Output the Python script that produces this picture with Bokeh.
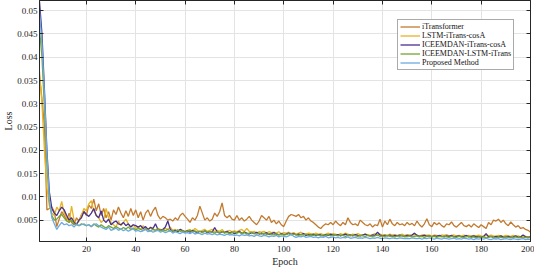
from bokeh.plotting import figure
from bokeh.models import (Range1d, FixedTicker, CustomJSTickFormatter, LinearAxis,
                          Legend, LegendItem)
from bokeh.embed import file_html
from bokeh.resources import INLINE

epochs = list(range(1, 201))

itransformer = [
    0.0360, 0.0310, 0.0250, 0.0072, 0.0075, 0.0078, 0.0068, 0.0036, 0.0052, 0.0068,
    0.0060, 0.0050, 0.0065, 0.0045, 0.0040, 0.0055, 0.0048, 0.0062, 0.0070, 0.0060,
    0.0082, 0.0075, 0.0095, 0.0070, 0.0085, 0.0060, 0.0075, 0.0055, 0.0068, 0.0050,
    0.0072, 0.0062, 0.0078, 0.0065, 0.0055, 0.0070, 0.0058, 0.0075, 0.0060, 0.0072,
    0.0055, 0.0068, 0.0050, 0.0065, 0.0072, 0.0058, 0.0070, 0.0078, 0.0060, 0.0052,
    0.0058, 0.0055, 0.0050, 0.0052, 0.0048, 0.0055, 0.0050, 0.0060, 0.0065, 0.0058,
    0.0052, 0.0045, 0.0055, 0.0050, 0.0060, 0.0080, 0.0065, 0.0050, 0.0055, 0.0048,
    0.0052, 0.0065, 0.0058, 0.0068, 0.0087, 0.0060, 0.0055, 0.0060, 0.0052, 0.0050,
    0.0060, 0.0050, 0.0055, 0.0048, 0.0052, 0.0058, 0.0050, 0.0045, 0.0040, 0.0048,
    0.0060, 0.0055, 0.0050, 0.0058, 0.0045, 0.0050, 0.0042, 0.0048, 0.0040, 0.0036,
    0.0048, 0.0058, 0.0062, 0.0060, 0.0058, 0.0062, 0.0055, 0.0058, 0.0050, 0.0055,
    0.0048, 0.0045, 0.0040, 0.0035, 0.0032, 0.0038, 0.0042, 0.0040, 0.0045, 0.0040,
    0.0048, 0.0042, 0.0038, 0.0045, 0.0040, 0.0055, 0.0045, 0.0040, 0.0042, 0.0038,
    0.0050, 0.0045, 0.0040, 0.0038, 0.0042, 0.0035, 0.0040, 0.0038, 0.0052, 0.0035,
    0.0048, 0.0040, 0.0052, 0.0042, 0.0038, 0.0045, 0.0040, 0.0042, 0.0038, 0.0045,
    0.0040, 0.0043, 0.0038, 0.0048, 0.0040, 0.0035, 0.0042, 0.0053, 0.0040, 0.0036,
    0.0045, 0.0040, 0.0044, 0.0038, 0.0035, 0.0042, 0.0040, 0.0046, 0.0038, 0.0035,
    0.0040, 0.0045, 0.0038, 0.0036, 0.0040, 0.0035, 0.0042, 0.0038, 0.0034, 0.0040,
    0.0036, 0.0032, 0.0045, 0.0040, 0.0050, 0.0048, 0.0052, 0.0045, 0.0050, 0.0042,
    0.0038, 0.0046, 0.0040, 0.0035, 0.0038, 0.0032, 0.0034, 0.0030, 0.0028, 0.0024,
]

lstm_itrans_cosa = [
    0.0370, 0.0300, 0.0200, 0.0120, 0.0080, 0.0065, 0.0060, 0.0078, 0.0070, 0.0090,
    0.0065, 0.0055, 0.0045, 0.0080, 0.0050, 0.0042, 0.0048, 0.0060, 0.0075, 0.0070,
    0.0085, 0.0092, 0.0070, 0.0060, 0.0055, 0.0045, 0.0050, 0.0075, 0.0055, 0.0045,
    0.0040, 0.0035, 0.0048, 0.0038, 0.0045, 0.0052, 0.0042, 0.0035, 0.0040, 0.0032,
    0.0035, 0.0030, 0.0038, 0.0032, 0.0030, 0.0035, 0.0030, 0.0028, 0.0032, 0.0030,
    0.0028, 0.0032, 0.0030, 0.0035, 0.0028, 0.0030, 0.0026, 0.0030, 0.0028, 0.0025,
    0.0028, 0.0030, 0.0026, 0.0032, 0.0028, 0.0025, 0.0028, 0.0030, 0.0026, 0.0028,
    0.0030, 0.0025, 0.0028, 0.0026, 0.0030, 0.0024, 0.0026, 0.0028, 0.0025, 0.0027,
    0.0025, 0.0028, 0.0030, 0.0025, 0.0032, 0.0026, 0.0024, 0.0026, 0.0022, 0.0025,
    0.0024, 0.0026, 0.0022, 0.0025, 0.0023, 0.0024, 0.0022, 0.0025, 0.0021, 0.0023,
    0.0022, 0.0024, 0.0021, 0.0023, 0.0020, 0.0022, 0.0024, 0.0021, 0.0020, 0.0022,
    0.0021, 0.0019, 0.0022, 0.0020, 0.0021, 0.0019, 0.0020, 0.0022, 0.0019, 0.0021,
    0.0020, 0.0018, 0.0021, 0.0019, 0.0022, 0.0020, 0.0018, 0.0020, 0.0019, 0.0021,
    0.0019, 0.0018, 0.0020, 0.0019, 0.0017, 0.0019, 0.0021, 0.0018, 0.0020, 0.0018,
    0.0019, 0.0017, 0.0020, 0.0018, 0.0019, 0.0017, 0.0018, 0.0020, 0.0017, 0.0019,
    0.0018, 0.0017, 0.0019, 0.0018, 0.0016, 0.0018, 0.0019, 0.0017, 0.0018, 0.0016,
    0.0018, 0.0017, 0.0016, 0.0018, 0.0017, 0.0019, 0.0016, 0.0017, 0.0018, 0.0016,
    0.0017, 0.0016, 0.0018, 0.0016, 0.0017, 0.0015, 0.0017, 0.0016, 0.0018, 0.0016,
    0.0015, 0.0017, 0.0016, 0.0018, 0.0016, 0.0015, 0.0017, 0.0016, 0.0015, 0.0017,
    0.0016, 0.0015, 0.0017, 0.0015, 0.0016, 0.0014, 0.0016, 0.0015, 0.0014, 0.0015,
]

iceemdan_itrans_cosa = [
    0.0520, 0.0450, 0.0330, 0.0200, 0.0110, 0.0075, 0.0065, 0.0060, 0.0070, 0.0078,
    0.0072, 0.0060, 0.0050, 0.0055, 0.0045, 0.0040, 0.0050, 0.0055, 0.0068, 0.0062,
    0.0058, 0.0065, 0.0075, 0.0060, 0.0055, 0.0070, 0.0050, 0.0045, 0.0052, 0.0040,
    0.0045, 0.0048, 0.0042, 0.0040, 0.0045, 0.0038, 0.0042, 0.0035, 0.0040, 0.0038,
    0.0035, 0.0038, 0.0032, 0.0036, 0.0030, 0.0034, 0.0032, 0.0042, 0.0030, 0.0028,
    0.0030, 0.0035, 0.0048, 0.0030, 0.0026, 0.0028, 0.0025, 0.0030, 0.0027, 0.0025,
    0.0027, 0.0024, 0.0028, 0.0025, 0.0023, 0.0026, 0.0024, 0.0027, 0.0023, 0.0025,
    0.0024, 0.0034, 0.0025, 0.0022, 0.0025, 0.0023, 0.0026, 0.0022, 0.0024, 0.0021,
    0.0023, 0.0026, 0.0021, 0.0024, 0.0022, 0.0020, 0.0023, 0.0021, 0.0024, 0.0020,
    0.0022, 0.0020, 0.0023, 0.0019, 0.0021, 0.0023, 0.0020, 0.0018, 0.0021, 0.0019,
    0.0020, 0.0022, 0.0019, 0.0021, 0.0018, 0.0020, 0.0019, 0.0021, 0.0017, 0.0019,
    0.0018, 0.0020, 0.0017, 0.0019, 0.0018, 0.0016, 0.0019, 0.0017, 0.0020, 0.0018,
    0.0017, 0.0019, 0.0016, 0.0018, 0.0020, 0.0017, 0.0018, 0.0016, 0.0019, 0.0017,
    0.0016, 0.0018, 0.0020, 0.0017, 0.0016, 0.0018, 0.0017, 0.0024, 0.0018, 0.0016,
    0.0017, 0.0016, 0.0018, 0.0015, 0.0017, 0.0016, 0.0018, 0.0016, 0.0015, 0.0017,
    0.0016, 0.0018, 0.0022, 0.0017, 0.0015, 0.0016, 0.0017, 0.0015, 0.0016, 0.0014,
    0.0016, 0.0015, 0.0017, 0.0015, 0.0014, 0.0016, 0.0015, 0.0017, 0.0014, 0.0015,
    0.0016, 0.0014, 0.0015, 0.0017, 0.0014, 0.0015, 0.0016, 0.0014, 0.0015, 0.0013,
    0.0015, 0.0021, 0.0014, 0.0015, 0.0013, 0.0015, 0.0014, 0.0016, 0.0013, 0.0014,
    0.0015, 0.0013, 0.0014, 0.0016, 0.0013, 0.0014, 0.0018, 0.0014, 0.0013, 0.0014,
]

iceemdan_lstm_itrans = [
    0.0460, 0.0400, 0.0290, 0.0170, 0.0090, 0.0060, 0.0050, 0.0052, 0.0058, 0.0062,
    0.0055, 0.0048, 0.0045, 0.0050, 0.0042, 0.0040, 0.0038, 0.0042, 0.0040, 0.0038,
    0.0040, 0.0036, 0.0042, 0.0038, 0.0035, 0.0040, 0.0036, 0.0033, 0.0038, 0.0035,
    0.0032, 0.0036, 0.0033, 0.0030, 0.0034, 0.0031, 0.0035, 0.0030, 0.0033, 0.0029,
    0.0032, 0.0030, 0.0028, 0.0031, 0.0029, 0.0027, 0.0030, 0.0028, 0.0031, 0.0027,
    0.0029, 0.0027, 0.0030, 0.0026, 0.0028, 0.0025, 0.0029, 0.0026, 0.0027, 0.0024,
    0.0026, 0.0028, 0.0025, 0.0027, 0.0024, 0.0026, 0.0023, 0.0027, 0.0024, 0.0026,
    0.0024, 0.0022, 0.0025, 0.0023, 0.0026, 0.0022, 0.0024, 0.0021, 0.0023, 0.0025,
    0.0022, 0.0024, 0.0021, 0.0023, 0.0020, 0.0022, 0.0024, 0.0021, 0.0020, 0.0022,
    0.0020, 0.0022, 0.0019, 0.0021, 0.0020, 0.0018, 0.0021, 0.0019, 0.0020, 0.0018,
    0.0019, 0.0021, 0.0018, 0.0020, 0.0019, 0.0017, 0.0019, 0.0018, 0.0020, 0.0017,
    0.0018, 0.0017, 0.0019, 0.0018, 0.0016, 0.0018, 0.0017, 0.0019, 0.0016, 0.0018,
    0.0017, 0.0016, 0.0018, 0.0017, 0.0015, 0.0017, 0.0016, 0.0018, 0.0016, 0.0015,
    0.0017, 0.0016, 0.0015, 0.0017, 0.0016, 0.0015, 0.0016, 0.0018, 0.0015, 0.0016,
    0.0015, 0.0017, 0.0015, 0.0016, 0.0014, 0.0016, 0.0015, 0.0017, 0.0014, 0.0015,
    0.0016, 0.0014, 0.0015, 0.0016, 0.0014, 0.0015, 0.0013, 0.0015, 0.0016, 0.0014,
    0.0015, 0.0013, 0.0015, 0.0014, 0.0016, 0.0014, 0.0013, 0.0015, 0.0014, 0.0013,
    0.0015, 0.0014, 0.0013, 0.0014, 0.0015, 0.0013, 0.0014, 0.0012, 0.0014, 0.0013,
    0.0014, 0.0012, 0.0013, 0.0015, 0.0013, 0.0012, 0.0014, 0.0013, 0.0012, 0.0014,
    0.0013, 0.0012, 0.0013, 0.0014, 0.0012, 0.0013, 0.0012, 0.0013, 0.0012, 0.0013,
]

proposed = [
    0.0500, 0.0430, 0.0320, 0.0190, 0.0095, 0.0055, 0.0042, 0.0030, 0.0038, 0.0045,
    0.0040, 0.0042, 0.0038, 0.0040, 0.0035, 0.0042, 0.0038, 0.0040, 0.0042, 0.0038,
    0.0040, 0.0036, 0.0040, 0.0042, 0.0038, 0.0035, 0.0032, 0.0030, 0.0035, 0.0028,
    0.0030, 0.0033, 0.0028, 0.0031, 0.0027, 0.0030, 0.0026, 0.0029, 0.0031, 0.0026,
    0.0028, 0.0025, 0.0027, 0.0030, 0.0025, 0.0027, 0.0024, 0.0026, 0.0028, 0.0024,
    0.0026, 0.0023, 0.0025, 0.0027, 0.0022, 0.0025, 0.0023, 0.0021, 0.0024, 0.0022,
    0.0023, 0.0021, 0.0024, 0.0020, 0.0022, 0.0021, 0.0019, 0.0022, 0.0020, 0.0021,
    0.0019, 0.0021, 0.0018, 0.0020, 0.0019, 0.0017, 0.0020, 0.0018, 0.0019, 0.0017,
    0.0018, 0.0016, 0.0019, 0.0017, 0.0018, 0.0016, 0.0017, 0.0015, 0.0018, 0.0016,
    0.0015, 0.0017, 0.0016, 0.0014, 0.0016, 0.0015, 0.0017, 0.0014, 0.0016, 0.0015,
    0.0014, 0.0016, 0.0020, 0.0015, 0.0013, 0.0015, 0.0014, 0.0016, 0.0013, 0.0014,
    0.0015, 0.0013, 0.0014, 0.0012, 0.0014, 0.0013, 0.0015, 0.0012, 0.0013, 0.0014,
    0.0012, 0.0013, 0.0011, 0.0013, 0.0012, 0.0014, 0.0011, 0.0012, 0.0013, 0.0011,
    0.0012, 0.0011, 0.0013, 0.0012, 0.0010, 0.0012, 0.0011, 0.0013, 0.0011, 0.0010,
    0.0012, 0.0011, 0.0010, 0.0012, 0.0011, 0.0010, 0.0012, 0.0011, 0.0010, 0.0011,
    0.0010, 0.0012, 0.0011, 0.0010, 0.0011, 0.0009, 0.0011, 0.0010, 0.0012, 0.0010,
    0.0009, 0.0011, 0.0010, 0.0009, 0.0011, 0.0010, 0.0009, 0.0010, 0.0011, 0.0009,
    0.0010, 0.0009, 0.0011, 0.0010, 0.0009, 0.0010, 0.0008, 0.0010, 0.0009, 0.0010,
    0.0009, 0.0011, 0.0009, 0.0008, 0.0010, 0.0009, 0.0010, 0.0008, 0.0009, 0.0010,
    0.0009, 0.0008, 0.0010, 0.0009, 0.0008, 0.0009, 0.0010, 0.0008, 0.0009, 0.0008,
]

series_names = ["iTransformer", "LSTM-iTrans-cosA", "ICEEMDAN-iTrans-cosA",
                "ICEEMDAN-LSTM-iTrans", "Proposed Method"]
series_values = [itransformer, lstm_itrans_cosa, iceemdan_itrans_cosa,
                 iceemdan_lstm_itrans, proposed]
series_colors = ["#C27A2E", "#E8B422", "#48308F", "#74A52F", "#6BAAE0"]

x_ticks = [20, 40, 60, 80, 100, 120, 140, 160, 180, 200]
y_ticks = [0.005, 0.01, 0.015, 0.02, 0.025, 0.03, 0.035, 0.04, 0.045, 0.05]

FONT = "Liberation Serif"
AXIS_COLOR = "#262626"

p = figure(width=534, height=269, output_backend="svg", toolbar_location=None,
           x_range=Range1d(1, 200), y_range=Range1d(0.0004, 0.0522),
           min_border_left=0, min_border_right=4, min_border_top=0, min_border_bottom=0)
p.background_fill_color = "white"
p.border_fill_color = "white"
p.outline_line_color = AXIS_COLOR
p.outline_line_width = 1

fmt = CustomJSTickFormatter(code="return String(parseFloat(tick.toFixed(4)));")
blank = CustomJSTickFormatter(code="return '';")

for ax, ticks in ((p.xaxis[0], x_ticks), (p.yaxis[0], y_ticks)):
    ax.ticker = FixedTicker(ticks=ticks)
    ax.formatter = fmt
    ax.major_tick_in = 4
    ax.major_tick_out = 0
    ax.minor_tick_line_color = None
    ax.axis_line_color = AXIS_COLOR
    ax.major_tick_line_color = AXIS_COLOR
    ax.major_label_text_font = FONT
    ax.major_label_text_font_size = "9px"
    ax.major_label_text_color = AXIS_COLOR
    ax.axis_label_text_font = FONT
    ax.axis_label_text_font_size = "10px"
    ax.axis_label_text_font_style = "normal"
    ax.axis_label_text_color = AXIS_COLOR

p.xaxis[0].major_label_standoff = 4
p.xaxis[0].axis_label_standoff = 1
p.yaxis[0].major_label_standoff = 2
p.yaxis[0].axis_label_standoff = 0
p.xaxis[0].axis_label = "Epoch"
p.yaxis[0].axis_label = "Loss"

# box ticks on top and right (inward), no labels
top_ax = LinearAxis(ticker=FixedTicker(ticks=x_ticks), formatter=blank,
                    major_tick_in=4, major_tick_out=0,
                    minor_tick_line_color=None, major_label_standoff=0,
                    axis_line_color=AXIS_COLOR, major_tick_line_color=AXIS_COLOR)
right_ax = LinearAxis(ticker=FixedTicker(ticks=y_ticks), formatter=blank,
                      major_tick_in=4, major_tick_out=0,
                      minor_tick_line_color=None, major_label_standoff=0,
                      axis_line_color=AXIS_COLOR, major_tick_line_color=AXIS_COLOR)
p.add_layout(top_ax, "above")
p.add_layout(right_ax, "right")

p.xgrid.ticker = FixedTicker(ticks=x_ticks)
p.ygrid.ticker = FixedTicker(ticks=y_ticks)
p.xgrid.grid_line_color = "#E3E3E3"
p.ygrid.grid_line_color = "#E3E3E3"

items = []
for name, vals, col in zip(series_names, series_values, series_colors):
    r = p.line(epochs, vals, line_color=col, line_width=1.3)
    items.append(LegendItem(label=name, renderers=[r]))

legend = Legend(items=items, location=(358, 171))
legend.label_text_font = FONT
legend.label_text_font_size = "8px"
legend.label_text_color = "#111111"
legend.label_height = 9
legend.label_standoff = 2
legend.glyph_width = 20
legend.glyph_height = 9
legend.spacing = 0
legend.padding = 2
legend.margin = 0
legend.border_line_color = "#555555"
legend.border_line_width = 1
legend.background_fill_color = "white"
legend.background_fill_alpha = 1
p.add_layout(legend, "center")

open("out.html", "w").write(file_html(p, INLINE))
